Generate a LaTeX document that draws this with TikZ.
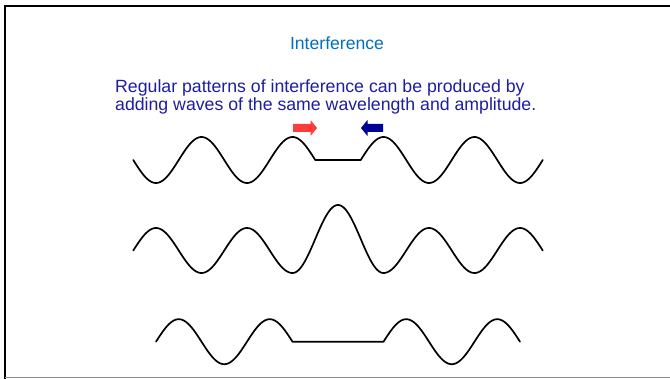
\documentclass[tikz,border=0pt]{standalone}
\usepackage{fontspec}
\setmainfont{Liberation Sans}
\definecolor{titleblue}{RGB}{0,112,192}
\definecolor{textblue}{RGB}{30,30,160}
\definecolor{arrred}{RGB}{255,60,60}
\definecolor{arrblue}{RGB}{0,0,150}
\begin{document}
\begin{tikzpicture}[x=1pt,y=-1pt,
  wave/.style={line width=1.7pt, line join=round, line cap=round, black},
  frameline/.style={line width=2pt, black}]
\useasboundingbox (0,0) rectangle (670,379);
\fill[white] (0,0) rectangle (670,379);
% frame
\draw[frameline] (5,379) -- (5,5.7) -- (670,5.7);
\draw[gray!90, line width=1.2pt] (5,377.7) -- (670,377.7);
% texts
\node[anchor=base, font=\fontsize{17.6}{20}\selectfont, text=titleblue, inner sep=0pt] (title) at (337,49.5) {Interference};
\node[anchor=base west, font=\fontsize{17.7}{17.8}\selectfont, text=textblue, inner sep=0pt, align=left] (body) at (115,110.8)
  {Regular patterns of interference can be produced by\\adding waves of the same wavelength and amplitude.};
% arrows
\fill[arrred] (293,124) -- (310.5,124) -- (310.5,120) -- (317,128) -- (310.5,136) -- (310.5,132) -- (293,132) -- cycle;
\fill[arrblue] (383,124) -- (367.5,124) -- (367.5,120) -- (361,128) -- (367.5,136) -- (367.5,132) -- (383,132) -- cycle;
% row 1
\draw[wave] plot[domain=133.25:315.25, samples=120] (\x, {160 - 23*cos(3.956044*(\x-292.5))})
  -- plot[domain=360.75:542.75, samples=120] (\x, {160 - 23*cos(3.956044*(\x-383.5))});
% row 2
\draw[wave] plot[domain=133.25:292.5, samples=110] (\x, {250.5 - 22.5*cos(3.956044*(\x-338))})
  -- plot[domain=292.5:383.5, samples=80] (\x, {239 - 34*cos(3.956044*(\x-338))})
  -- plot[domain=383.5:542.75, samples=110] (\x, {250.5 - 22.5*cos(3.956044*(\x-338))});
% row 3
\draw[wave] plot[domain=156:292.5, samples=100] (\x, {341.7 - 22.5*cos(3.956044*(\x-269.75))})
  -- plot[domain=383.5:520, samples=100] (\x, {341.7 - 22.5*cos(3.956044*(\x-406.25))});
\end{tikzpicture}
\end{document}
